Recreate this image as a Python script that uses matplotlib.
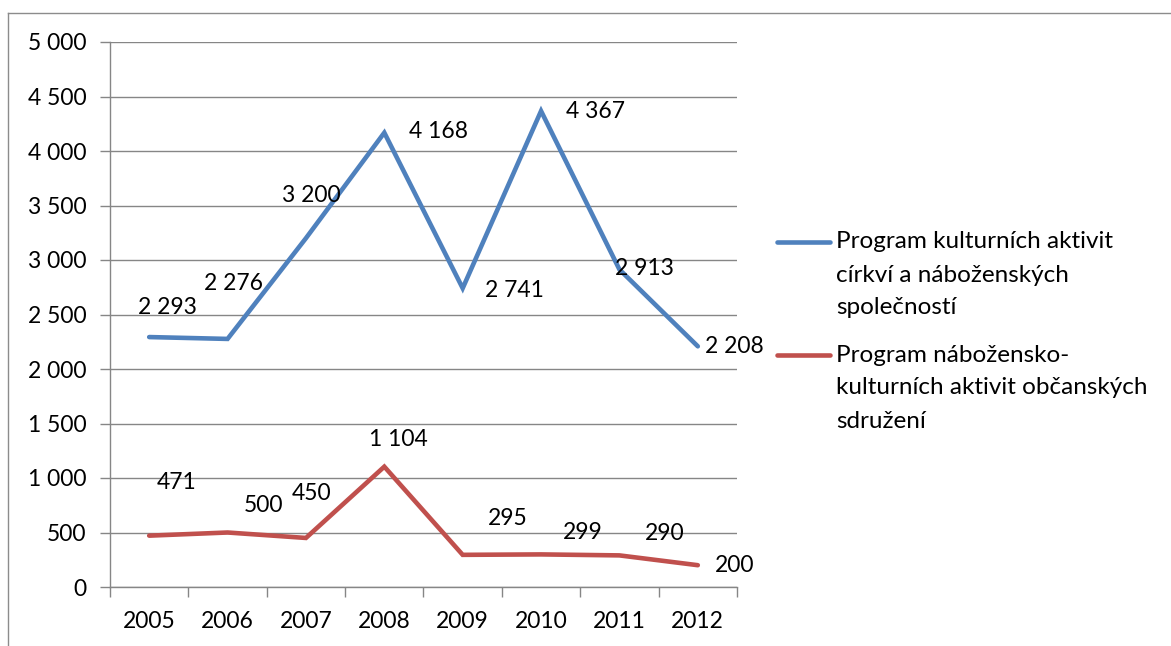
import matplotlib
matplotlib.use("Agg")
import matplotlib.pyplot as plt
from matplotlib.lines import Line2D
from matplotlib.ticker import FuncFormatter

years = ["2005", "2006", "2007", "2008", "2009", "2010", "2011", "2012"]
cirkve = [2293, 2276, 3200, 4168, 2741, 4367, 2913, 2208]
sdruzeni = [471, 500, 450, 1104, 295, 299, 290, 200]
labels = [
    ["Program kulturních aktivit", "církví a náboženských", "společností"],
    ["Program nábožensko-", "kulturních aktivit občanských", "sdružení"],
]

# offsety popisků v pixelech (dx, dy)
off_blue = [(18, 30), (6, 55), (5, 43), (54, 1), (52, -2), (54, -1), (25, 1), (37, 0)]
off_red = [(27, 53), (36, 27), (6, 44), (14, 27), (45, 36), (42, 22), (45, 22), (37, 0)]

blue = "#4F81BD"
red = "#C0504D"
grid = "#868686"

plt.rcParams["font.family"] = ["Lato", "DejaVu Sans"]
fs = 16.5

W, H = 1171, 646
fig = plt.figure(figsize=(W / 100, H / 100), dpi=100)
ax = fig.add_axes([110 / W, (H - 587) / H, 627 / W, 545 / H])

x = range(len(years))
ax.plot(x, cirkve, color=blue, lw=3.3, solid_capstyle="round", solid_joinstyle="miter")
ax.plot(x, sdruzeni, color=red, lw=3.3, solid_capstyle="round", solid_joinstyle="miter")

fmt = lambda v: f"{v:,}".replace(",", " ")
for i, v in enumerate(cirkve):
    ax.annotate(fmt(v), (i, v), xytext=off_blue[i], textcoords="offset pixels",
                ha="center", va="center", fontsize=fs)
for i, v in enumerate(sdruzeni):
    ax.annotate(fmt(v), (i, v), xytext=off_red[i], textcoords="offset pixels",
                ha="center", va="center", fontsize=fs)

ax.set_xlim(-0.5, len(years) - 0.5)
ax.set_ylim(0, 5000)
ax.set_yticks(range(0, 5001, 500))
ax.yaxis.set_major_formatter(FuncFormatter(lambda v, p: fmt(int(v))))
ax.set_xticks(x)
ax.set_xticklabels(years)
ax.set_xticks([i - 0.5 for i in range(len(years) + 1)], minor=True)
ax.tick_params(axis="x", which="major", length=0, pad=17, labelsize=fs)
ax.tick_params(axis="x", which="minor", length=7, color=grid, width=1)
ax.tick_params(axis="y", length=7, color=grid, width=1, pad=10, labelsize=fs)
ax.grid(axis="y", color=grid, lw=1)
ax.set_axisbelow(True)
for s in ["top", "right"]:
    ax.spines[s].set_visible(False)
for s in ["left", "bottom"]:
    ax.spines[s].set_color(grid)
    ax.spines[s].set_linewidth(1)

# legenda - každý řádek zvlášť
for k, (col, lines) in enumerate(zip([blue, red], labels)):
    y0 = 242 + k * 113
    fig.add_artist(Line2D([777 / W, 830 / W], [(H - y0) / H] * 2, color=col, lw=3.3,
                          solid_capstyle="round"))
    for j, line in enumerate(lines):
        fig.text(836 / W, (H - y0 - 33 * j) / H, line, fontsize=17.5,
                 ha="left", va="center")

# rámeček
fig.add_artist(Line2D([8 / W, 8 / W], [0, (H - 13) / H], color="#8c8c8c", lw=1))
fig.add_artist(Line2D([8 / W, 1], [(H - 13) / H, (H - 13) / H], color="#8c8c8c", lw=1))

fig.savefig("out.png", dpi=100)
